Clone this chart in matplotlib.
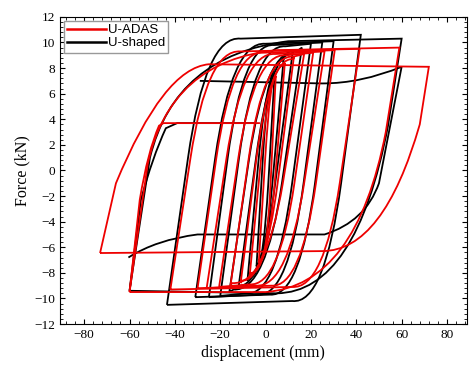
import matplotlib
matplotlib.use("Agg")
import matplotlib.pyplot as plt
from matplotlib.path import Path
from matplotlib.patches import PathPatch
from matplotlib.ticker import MultipleLocator, AutoMinorLocator

# Each loop: negative peak, end of reload line, curve control, start of upper plateau,
# positive peak, end of unload line, curve control, start of lower plateau
u_shaped_loops = [
    [(-4, -7.5), (-1.2, 1), (1.0, 7.6), (3.7, 7.4), (4, 7.6), (1.2, -1), (-1.0, -7.5), (-3.7, -7.3)],
    [(-8, -8.6), (-3.0, 1), (1.1, 8.8), (7.7, 8.6), (8, 8.8), (3.0, -1), (-0.9, -8.6), (-7.7, -8.4)],
    [(-12, -9.2), (-4.2, 1), (2.1, 9.3), (11.7, 9.1), (12, 9.3), (4.25, -1), (-1.9, -9.2), (-11.7, -9.0)],
    [(-16, -9.5), (-7.2, 1), (0.1, 9.6), (14.5, 9.4), (16, 9.6), (7.2, -1), (0.1, -9.5), (-14.1, -9.3)],
    [(-20, -9.8), (-11.7, 1), (-4.9, 9.9), (8.7, 9.7), (20, 9.9), (11.7, -1), (5.1, -9.8), (-8.2, -9.6)],
    [(-25, -9.9), (-16.7, 1), (-9.9, 10.0), (3.7, 9.8), (25, 10.0), (16.75, -1), (10.1, -9.9), (-3.3, -9.7)],
    [(-31, -9.9), (-22.2, 1), (-14.9, 10.1), (-0.2, 9.9), (30, 10.1), (21.8, -1), (15.2, -9.9), (2.0, -9.7)],
    [(-43.5, -10.5), (-34.2, 1), (-26.5, 10.6), (-11, 10.3), (42, 10.6), (33.3, -1), (26.1, -10.5), (11.8, -10.2)],
    [(-60, -9.4), (-51, 1.0), (-40, 9.0), (10, 10.1), (60, 10.3), (54, 3.5), (40, -9.5), (5, -9.6)],
]
u_adas_loops = [
    [(-3, -7.2), (-0.15, 1), (2.1, 7.4), (4.2, 7.2), (4.5, 7.4), (2.2, -1), (0.55, -7.2), (-2.7, -7.0)],
    [(-7, -8.2), (-1.95, 1), (2.1, 8.4), (8.2, 8.2), (8.5, 8.4), (4.0, -1), (0.6, -8.2), (-6.7, -8.0)],
    [(-11, -8.8), (-4.0, 1), (1.7, 8.9), (12.2, 8.7), (12.5, 8.9), (5.3, -1), (-0.4, -8.8), (-10.7, -8.6)],
    [(-15.5, -9.0), (-7.4, 1), (-0.8, 9.1), (12.4, 8.9), (17, 9.1), (7.6, -1), (0.1, -9.0), (-14.8, -8.8)],
    [(-20.5, -9.1), (-12.0, 1), (-5.0, 9.2), (8.9, 9.0), (21, 9.2), (12.7, -1), (6.1, -9.1), (-7.1, -8.9)],
    [(-26, -9.2), (-17.2, 1), (-10.1, 9.3), (4.2, 9.1), (26, 9.3), (17.0, -1), (9.9, -9.2), (-4.4, -9.0)],
    [(-30, -9.2), (-21.7, 1), (-14.8, 9.4), (-1.1, 9.2), (30.5, 9.4), (22.2, -1), (15.6, -9.2), (2.5, -9.0)],
    [(-42, -9.3), (-33.1, 1), (-25.8, 9.5), (-11.1, 9.3), (41.5, 9.5), (32.7, -1), (25.7, -9.3), (11.7, -9.1)],
    [(-60, -9.5), (-52, 0.5), (-42, 8.6), (5, 9.4), (59, 9.6), (53, 3.0), (40, -9.0), (0, -9.5)],
    [(-73, -6.45), (-66, -1.0), (-45, 8.0), (-25, 8.3), (72, 8.1), (68, 3.6), (52, -6.3), (25, -6.3)],
]
# partial branches of the last cycles
u_shaped_partial = [
    [(-60.5, -6.8), (-48, -5.4), (-30, -5.0), (26, -5.0), (44, -4.0), (50, -1.0), (60, 8.1),
     (42, 6.8), (25, 6.8), (-29, 7.0)],
    [(-60, -9.4), (-55, -2.3), (-50, 1.0), (-44, 3.3), (-39, 3.7), (-5, 3.7)],
]
u_adas_partial = [
    [(-60, -9.5), (-55.5, -2.3), (-52, 1.5), (-47, 3.5), (-45, 3.7), (-2.5, 3.7)],
]

loop_codes = [Path.MOVETO, Path.LINETO, Path.CURVE3, Path.CURVE3, Path.LINETO,
              Path.LINETO, Path.CURVE3, Path.CURVE3, Path.LINETO]
partial_codes = {
    10: [Path.MOVETO, Path.CURVE3, Path.CURVE3, Path.LINETO, Path.CURVE3, Path.CURVE3,
         Path.LINETO, Path.CURVE3, Path.CURVE3, Path.LINETO],
    6: [Path.MOVETO, Path.LINETO, Path.CURVE3, Path.CURVE3, Path.LINETO, Path.LINETO],
}


def draw_loops(ax, loops, partials, color):
    for pts in loops:
        path = Path(pts + [pts[0]], loop_codes)
        ax.add_patch(PathPatch(path, fill=False, edgecolor=color, lw=1.3))
    for pts in partials:
        path = Path(pts, partial_codes[len(pts)])
        ax.add_patch(PathPatch(path, fill=False, edgecolor=color, lw=1.3))


plt.rcParams["font.family"] = ["Liberation Serif", "DejaVu Serif"]

fig = plt.figure(figsize=(4.7, 3.67), dpi=100)
ax = fig.add_axes([0.128, 0.117, 0.865, 0.837])

draw_loops(ax, u_shaped_loops, u_shaped_partial, "black")
draw_loops(ax, u_adas_loops, u_adas_partial, "#ee0000")

ax.plot([], [], color="#ee0000", lw=1.8, label="U-ADAS")
ax.plot([], [], color="black", lw=1.8, label="U-shaped")

ax.set_xlim(-90.6, 88.7)
ax.set_ylim(-12, 12)
ax.xaxis.set_major_locator(MultipleLocator(20))
ax.yaxis.set_major_locator(MultipleLocator(2))
ax.xaxis.set_minor_locator(AutoMinorLocator(5))
ax.yaxis.set_minor_locator(AutoMinorLocator(5))
ax.tick_params(which="both", direction="in", top=True, right=True, labelsize=9.5)
ax.tick_params(which="major", length=3.5)
ax.tick_params(which="minor", length=2)
ax.set_xlabel("displacement (mm)", fontsize=11.5, labelpad=3)
ax.set_ylabel("Force (kN)", fontsize=11.5, labelpad=3)

ax.legend(loc="upper left", prop={"family": "Liberation Sans", "size": 9.5},
          handlelength=2.9, handletextpad=0.15, borderpad=0.25, labelspacing=0.05,
          borderaxespad=0.3, fancybox=False, edgecolor="#999999", framealpha=1)

fig.savefig("out.png", dpi=100)
